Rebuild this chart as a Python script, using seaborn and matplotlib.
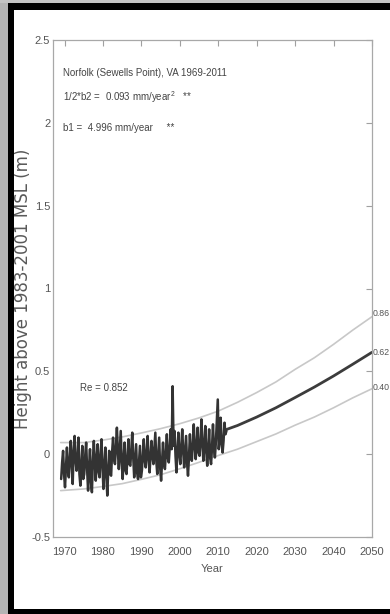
import numpy as np
import pandas as pd
import seaborn as sns
import matplotlib
matplotlib.use("Agg")
import matplotlib.pyplot as plt
from matplotlib.patches import Rectangle

# ---------------- data ----------------
obs_start_year = 1969
obs_q = [  # quarterly mean sea level (m), 1969 .. 2012
    -0.15, -0.05, 0.02, -0.12,
    -0.20, -0.08, 0.04, -0.10,
    -0.14, -0.02, 0.08, -0.06,
    -0.18, 0.02, 0.11, -0.04,
    -0.10, -0.03, 0.10, -0.12,
    -0.19, -0.06, 0.05, -0.15,
    -0.12, -0.01, 0.07, -0.09,
    -0.22, -0.08, 0.03, -0.17,
    -0.23, -0.04, 0.08, -0.05,
    -0.16, -0.02, 0.06, -0.11,
    -0.14, 0.00, 0.09, -0.08,
    -0.21, -0.07, 0.04, -0.13,
    -0.25, -0.09, 0.02, -0.12,
    -0.13, 0.01, 0.10, -0.03,
    -0.06, 0.05, 0.16, 0.02,
    -0.09, 0.02, 0.14, -0.05,
    -0.15, -0.03, 0.07, -0.10,
    -0.12, -0.01, 0.09, -0.06,
    -0.07, 0.03, 0.13, -0.02,
    -0.14, -0.04, 0.06, -0.11,
    -0.15, -0.05, 0.05, -0.14,
    -0.10, 0.00, 0.09, -0.04,
    -0.08, 0.02, 0.11, -0.03,
    -0.11, -0.02, 0.08, -0.01,
    -0.06, 0.03, 0.13, -0.04,
    -0.12, -0.01, 0.10, -0.08,
    -0.16, -0.04, 0.07, -0.06,
    -0.09, 0.01, 0.12, -0.02,
    -0.05, 0.04, 0.15, 0.03,
    0.41, 0.05, 0.14, -0.01,
    -0.11, 0.02, 0.13, 0.00,
    -0.06, 0.04, 0.15, 0.02,
    -0.08, 0.01, 0.11, -0.05,
    -0.13, -0.02, 0.12, -0.01,
    -0.04, 0.06, 0.18, 0.05,
    -0.03, 0.05, 0.16, 0.01,
    -0.01, 0.08, 0.21, 0.06,
    -0.04, 0.05, 0.17, 0.02,
    -0.07, 0.03, 0.15, -0.02,
    -0.06, 0.04, 0.18, 0.03,
    -0.02, 0.07, 0.20, 0.33,
    0.03, 0.10, 0.22, 0.06,
    0.01, 0.08, 0.19, 0.12,
    0.14,
]

band_years = [1969, 1975, 1980, 1985, 1990, 1995, 2000, 2005, 2010,
              2015, 2020, 2025, 2030, 2035, 2040, 2045, 2050]
upper_band = [0.07, 0.07, 0.085, 0.104, 0.128, 0.154, 0.184, 0.219, 0.26,
              0.313, 0.372, 0.436, 0.512, 0.582, 0.663, 0.749, 0.83]
lower_band = [-0.22, -0.21, -0.195, -0.178, -0.152, -0.124, -0.088, -0.049, -0.008,
              0.03, 0.076, 0.122, 0.175, 0.224, 0.28, 0.34, 0.395]

proj_years = [2012, 2015, 2020, 2025, 2030, 2035, 2040, 2045, 2050]
proj_values = [0.148, 0.173, 0.224, 0.28, 0.342, 0.405, 0.472, 0.543, 0.615]

end_labels = ["0.86", "0.62", "0.40"]
end_label_y = [0.85, 0.615, 0.40]

xtick_values = [1970, 1980, 1990, 2000, 2010, 2020, 2030, 2040, 2050]
xtick_labels = ["1970", "1980", "1990", "2000", "2010", "2020", "2030", "2040", "2050"]
ytick_values = [-0.5, 0, 0.5, 1, 1.5, 2, 2.5]
ytick_labels = ["-0.5", "0", "0.5", "1", "1.5", "2", "2.5"]

title_lines = ["Norfolk (Sewells Point), VA 1969-2011",
               "1/2*b2 =  0.093 mm/year$^{2}$   **",
               "b1 =  4.996 mm/year     **"]
r_label = "Re = 0.852"

# ---------------- style ----------------
sns.set_style("white")
plt.rcParams["font.family"] = ["Liberation Sans", "DejaVu Sans"]
plt.rcParams["mathtext.default"] = "regular"

fig = plt.figure(figsize=(3.9, 6.14), dpi=100, facecolor="white")

# screenshot frame (gray shadow + black border)
fig.patches.append(Rectangle((0, 0), 8 / 390, 1, transform=fig.transFigure,
                             facecolor="#b4b4b4", edgecolor="none", zorder=0))
fig.patches.append(Rectangle((0, 1 - 3 / 614), 1, 3 / 614, transform=fig.transFigure,
                             facecolor="#c4c4c4", edgecolor="none", zorder=0))
fig.patches.append(Rectangle((8 / 390, 0), 6 / 390, 1 - 3 / 614, transform=fig.transFigure,
                             facecolor="black", edgecolor="none", zorder=1))
fig.patches.append(Rectangle((8 / 390, 1 - 10 / 614), 1, 7 / 614, transform=fig.transFigure,
                             facecolor="black", edgecolor="none", zorder=1))
fig.patches.append(Rectangle((8 / 390, 0), 1, 5 / 614, transform=fig.transFigure,
                             facecolor="black", edgecolor="none", zorder=1))

ax = fig.add_axes([53 / 390, 1 - 537 / 614, (372 - 53) / 390, (537 - 40) / 614])

obs_df = pd.DataFrame({
    "year": obs_start_year + (np.arange(len(obs_q)) + 0.5) / 4.0,
    "height": obs_q,
})
band_df = pd.DataFrame({"year": band_years, "upper": upper_band, "lower": lower_band})
proj_df = pd.DataFrame({"year": proj_years, "height": proj_values})

sns.lineplot(data=band_df, x="year", y="upper", ax=ax, color="#c8c8c8",
             linewidth=1.2, estimator=None, sort=False)
sns.lineplot(data=band_df, x="year", y="lower", ax=ax, color="#c8c8c8",
             linewidth=1.2, estimator=None, sort=False)
sns.lineplot(data=proj_df, x="year", y="height", ax=ax, color="#3c3c3c",
             linewidth=2.0, estimator=None, sort=False)
sns.lineplot(data=obs_df, x="year", y="height", ax=ax, color="#333333",
             linewidth=1.8, estimator=None, sort=False)

ax.set_xlim(1967, 2050)
ax.set_ylim(-0.5, 2.5)
ax.set_xticks(xtick_values)
ax.set_xticklabels(xtick_labels)
ax.set_yticks(ytick_values)
ax.set_yticklabels(ytick_labels)

for s in ax.spines.values():
    s.set_color("#a8a8a8")
    s.set_linewidth(0.9)
ax.tick_params(axis="both", direction="in", length=4, width=0.8, color="#a0a0a0",
               labelsize=8, labelcolor="#555555", top=True, right=True, pad=2)
ax.tick_params(axis="x", pad=7)

ax.set_xlabel("Year", fontsize=8, color="#555555", labelpad=5)
ax.set_ylabel("Height above 1983-2001 MSL (m)", fontsize=12, color="#595959",
              family=["DejaVu Sans"])
ax.yaxis.set_label_coords(-21 / 319, 0.5)

ty = [2.30, 2.155, 1.97]
for line, yv in zip(title_lines, ty):
    ax.text(1969.5, yv, line, fontsize=7, color="#444444", va="center", ha="left")
ax.text(1974.0, 0.40, r_label, fontsize=7, color="#444444", va="center", ha="left")

for lab, yv in zip(end_labels, end_label_y):
    ax.text(2050.2, yv, lab, fontsize=6.3, color="#555555", va="center", ha="left",
            clip_on=False)

fig.savefig("out.png", dpi=100, facecolor="white")
